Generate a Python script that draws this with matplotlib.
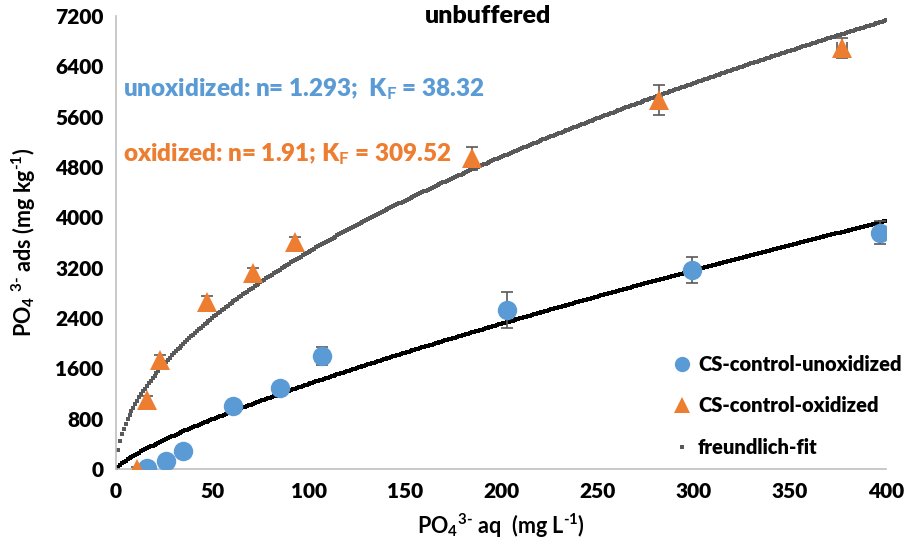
import numpy as np
import matplotlib
matplotlib.use("Agg")
import matplotlib.pyplot as plt
from matplotlib.lines import Line2D

plt.rcParams['font.family'] = ['Lato', 'DejaVu Sans']
plt.rcParams['font.weight'] = 'bold'
plt.rcParams['mathtext.fontset'] = 'custom'
plt.rcParams['mathtext.rm'] = 'Lato:bold'
plt.rcParams['mathtext.it'] = 'Lato:bold'
plt.rcParams['mathtext.bf'] = 'Lato:bold'

unox_x = [16, 26, 35, 61, 85, 107, 203, 299, 397]
unox_y = [10, 127, 290, 1005, 1293, 1797, 2530, 3165, 3757]
unox_err = [40, 40, 40, 60, 70, 150, 290, 205, 185]

ox_x = [11, 16, 23, 47, 71, 93, 185, 282, 377]
ox_y = [0, 1097, 1733, 2660, 3121, 3614, 4940, 5866, 6690]
ox_err = [40, 60, 80, 90, 80, 70, 180, 235, 160]
ox_xerr = [0, 0, 0, 0, 0, 0, 0, 0, 2.5]

# freundlich parameters shown on the chart
n_unox, kf_unox = 1.293, 38.32
n_ox, kf_ox = 1.91, 309.52
fit_x = np.arange(0, 401, 1.0)

blue = '#5B9BD5'
orange = '#ED7D31'
grey = '#595959'

fig = plt.figure(figsize=(9.18, 5.45), dpi=100)
ax = fig.add_axes([0.1264, 0.1394, 0.8388, 0.8312])

ax.plot(fit_x, kf_ox * fit_x ** (1 / n_ox), 's', color=grey, ms=2.6, mew=0, zorder=2)
ax.plot(fit_x, kf_unox * fit_x ** (1 / n_unox), 's', color='black', ms=2.8, mew=0, zorder=2)

ax.errorbar(unox_x, unox_y, yerr=unox_err, fmt='none', ecolor=grey, elinewidth=1.2,
            capsize=4.5, capthick=1.2, zorder=3)
ax.errorbar(ox_x, ox_y, yerr=ox_err, xerr=ox_xerr, fmt='none', ecolor=grey, elinewidth=1.2,
            capsize=4.5, capthick=1.2, zorder=3)
ax.plot(unox_x, unox_y, 'o', color=blue, ms=14, mew=0, zorder=4)
ax.plot(ox_x, ox_y, '^', color=orange, ms=15, mew=0, zorder=4)

ax.set_xlim(0, 400)
ax.set_ylim(0, 7200)
ax.set_xticks(np.arange(0, 401, 50))
ax.set_yticks(np.arange(0, 7201, 800))
ax.tick_params(length=0, labelsize=15, pad=9)
for lbl in ax.get_xticklabels() + ax.get_yticklabels():
    lbl.set_fontweight('heavy')
for s in ['top', 'right']:
    ax.spines[s].set_visible(False)
for s in ['left', 'bottom']:
    ax.spines[s].set_color('#BFBFBF')
    ax.spines[s].set_linewidth(1.2)

ax.set_xlabel(r'PO$_4$$^{3\text{-}}$ aq  (mg L$^{\text{-}1}$)', fontsize=15.5, fontweight='bold', labelpad=8)
ax.set_ylabel(r'PO$_4$ $^{3\text{-}}$ ads (mg kg$^{\text{-}1}$)', fontsize=15.5, fontweight='bold', labelpad=12)

fig.text(488 / 918, 1 - 16 / 545, 'unbuffered', ha='center', va='center', fontsize=18, fontweight='heavy')

ax.text(0.009, 0.839, r'unoxidized: n= 1.293;  K$_F$ = 38.32', transform=ax.transAxes,
        color=blue, fontsize=17.5, fontweight='heavy', va='center')
ax.text(0.009, 0.695, r'oxidized: n= 1.91; K$_F$ = 309.52', transform=ax.transAxes,
        color=orange, fontsize=17.5, fontweight='heavy', va='center')

handles = [
    Line2D([], [], ls='none', marker='o', color=blue, ms=11, mew=0),
    Line2D([], [], ls='none', marker='^', color=orange, ms=11, mew=0),
    Line2D([], [], ls='none', marker='s', color=grey, ms=3, mew=0),
]
labels = ['CS-control-unoxidized', 'CS-control-oxidized', 'freundlich-fit']
leg = ax.legend(handles, labels, loc='lower left', bbox_to_anchor=(0.71, 0.0), frameon=False,
                prop={'size': 14.5, 'weight': 'heavy'}, handlelength=0.7, handletextpad=0.45,
                labelspacing=1.12, borderaxespad=0.2)

fig.savefig('out.png', dpi=100)
